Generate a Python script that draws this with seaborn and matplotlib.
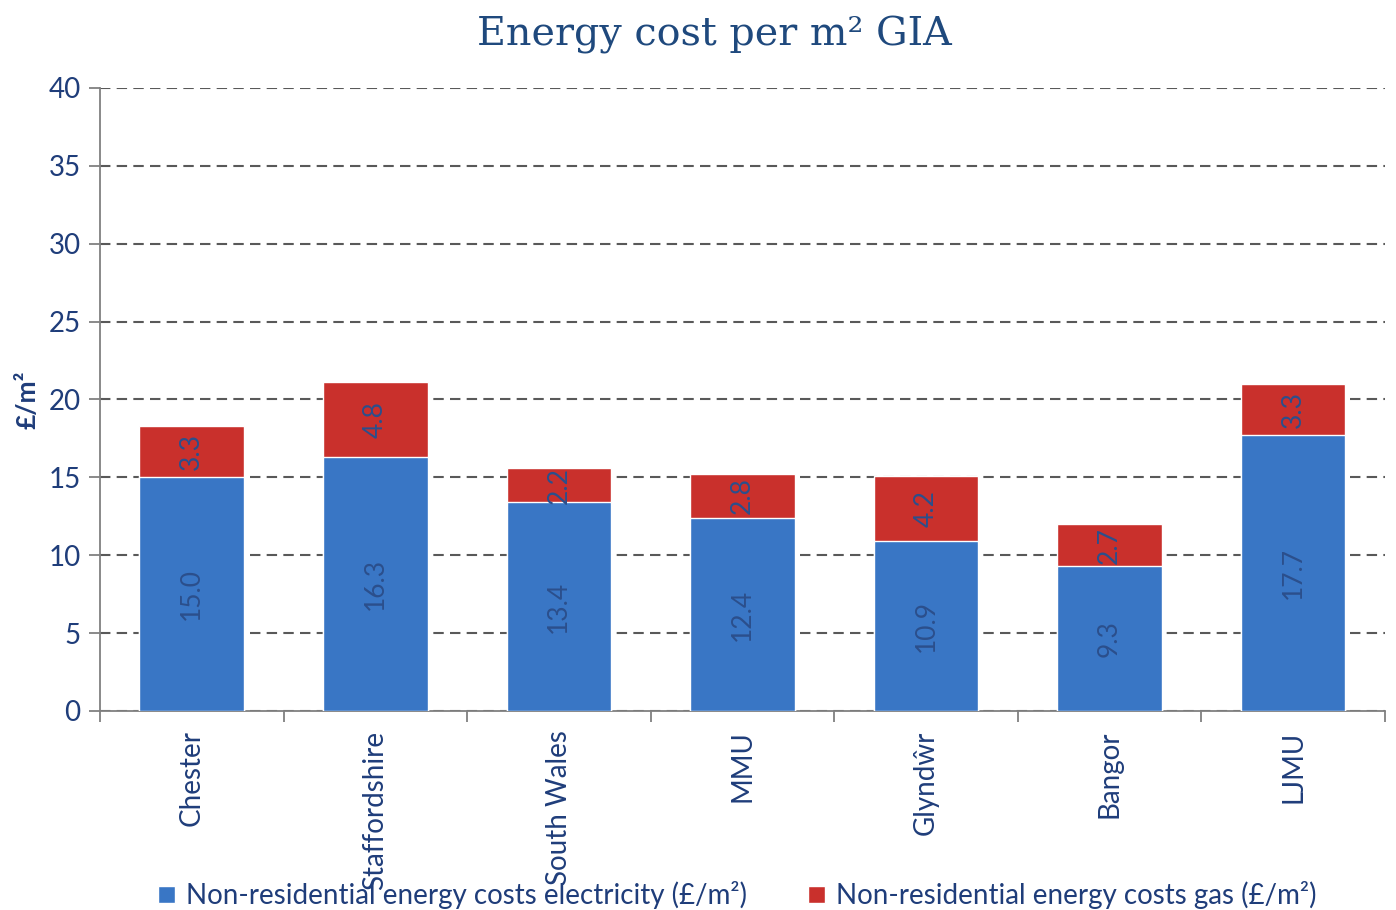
import matplotlib
matplotlib.use("Agg")
import matplotlib.pyplot as plt
import seaborn as sns
import pandas as pd
import numpy as np
from matplotlib.patches import Patch

categories = ["Chester", "Staffordshire", "South Wales", "MMU", "Glyndŵr", "Bangor", "LJMU"]
electricity = [15.0, 16.3, 13.4, 12.4, 10.9, 9.3, 17.7]
gas = [3.3, 4.8, 2.2, 2.8, 4.2, 2.7, 3.3]
series_names = ["Non-residential energy costs electricity (£/m²)",
                "Non-residential energy costs gas (£/m²)"]
yticks = [0, 5, 10, 15, 20, 25, 30, 35, 40]

BLUE = "#3976c5"
RED = "#c9302c"
TXT = "#1f3d7a"

sns.set_theme(style="white")
plt.rcParams['font.family'] = ['Lato', 'DejaVu Sans']

df = pd.DataFrame({"cat": categories, "elec": electricity, "gas": gas})
df["total"] = df["elec"] + df["gas"]

fig = plt.figure(figsize=(13.96, 9.10), dpi=100)
ax = fig.add_axes([0.0716, 0.2187, 0.9204, 0.6846])

sns.barplot(data=df, x="cat", y="total", color=RED, saturation=1, width=0.57, ax=ax, zorder=3)
sns.barplot(data=df, x="cat", y="elec", color=BLUE, saturation=1, width=0.57, ax=ax, zorder=3)

# value labels
for i, (e, g) in enumerate(zip(electricity, gas)):
    ax.text(i, e / 2, f"{e:.1f}", rotation=90, ha="center", va="center",
            fontsize=19, color="#2b4f8c", zorder=5)
    ax.text(i, e + g / 2, f"{g:.1f}", rotation=90, ha="center", va="center",
            fontsize=19, color="#2b4f8c", zorder=5)

ax.set_xlim(-0.5, len(categories) - 0.5)
ax.set_ylim(0, 40)
ax.set_yticks(yticks)
ax.set_yticklabels([str(t) for t in yticks], fontsize=20, color=TXT)
ax.yaxis.grid(True, linestyle=(0, (5, 3)), color="#595959", linewidth=1.5, zorder=0)
ax.set_axisbelow(True)

ax.set_xticks(range(len(categories)))
ax.set_xticklabels(categories, rotation=90, fontsize=20, color=TXT)
ax.set_xticks(np.arange(-0.5, len(categories), 1.0), minor=True)
ax.tick_params(axis="x", which="major", length=0, pad=14)
ax.tick_params(axis="x", which="minor", length=8, color="#808080", width=1.3, direction="out", bottom=True)
ax.tick_params(axis="y", which="major", length=8, color="#808080", width=1.3, direction="out", left=True, pad=6)
ax.set_xlabel("")
ax.set_ylabel("£/m²", fontsize=19, color=TXT, fontweight="bold", labelpad=6)

for s in ["top", "right"]:
    ax.spines[s].set_visible(False)
for s in ["left", "bottom"]:
    ax.spines[s].set_color("#808080")
    ax.spines[s].set_linewidth(1.3)

fig.text(0.512, 0.962, "Energy cost per m² GIA", ha="center", va="center",
         fontsize=28.5, color="#1f497d", family=["DejaVu Serif"])

handles = [Patch(facecolor=BLUE, label=series_names[0]),
           Patch(facecolor=RED, label=series_names[1])]
fig.legend(handles=handles, loc="center", bbox_to_anchor=(0.528, 0.016), ncol=2,
           frameon=False, fontsize=20, labelcolor=TXT, handlelength=0.6, handleheight=0.6,
           handletextpad=0.4, columnspacing=2.2)

fig.savefig("out.png", dpi=100)
